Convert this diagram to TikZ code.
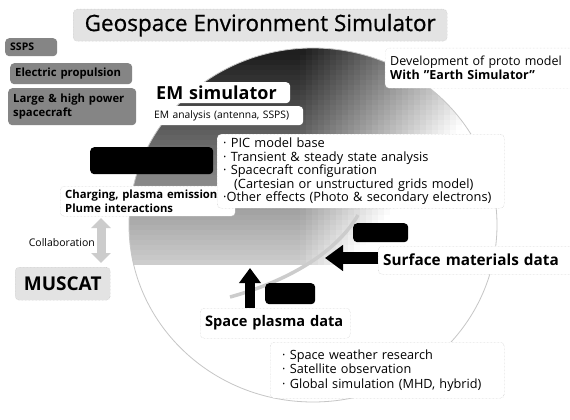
\documentclass[tikz,border=0pt]{standalone}
\usepackage{fontspec}
\setmainfont{Open Sans}
\usetikzlibrary{positioning, arrows.meta, calc}
\definecolor{tag_grey}{gray}{0.52}

\begin{document}
\begin{tikzpicture}[
    x=1pt, y=-1pt,
    every node/.style={inner sep=0pt},
    tag/.style={fill=tag_grey, rounded corners=4pt, anchor=north west,
                inner xsep=5pt, align=left, font=\bfseries\fontsize{11.3}{14}\selectfont},
    note/.style={fill=white, draw=gray!55, densely dotted, rounded corners=4pt,
                 anchor=north west, inner xsep=5pt, align=left},
    plain/.style={fill=white, rounded corners=4pt, anchor=north west,
                  inner xsep=6pt, align=left},
    redact/.style={fill=black, rounded corners=4pt, anchor=north west},
    fatarrow/.style={line width=#1, black},
    collab/.style={line width=9pt, gray!40,
                   {Triangle[width=19pt, length=10pt]}-{Triangle[width=19pt, length=10pt]}}
]
\useasboundingbox[fill=white] (0,0) rectangle (570,420);

% Dome behind everything, darkest top left
\begin{scope}
  \clip (313,225) ellipse [x radius=184pt, y radius=177pt];
  \foreach \i in {0,...,62} {
    \foreach \j in {0,...,43} {
      \pgfmathsetmacro{\cx}{126+6*\i}
      \pgfmathsetmacro{\cy}{45+5*\j}
      \pgfmathsetmacro{\dk}{min(88, max(0, 90 - 0.33*(\cy-47) - 0.4*max(0,\cx-297)))}
      \fill[black!\dk] (\cx,\cy) rectangle ++(6.3,5.3);
    }
  }
\end{scope}
\draw[gray!45, line width=0.8pt] (313,225) ellipse [x radius=184pt, y radius=177pt];

% Title
\node[fill=gray!22, draw=gray!50, densely dotted, rounded corners=4pt, anchor=north west,
      minimum width=374pt, minimum height=32pt,
      font=\fontsize{22.5}{26}\selectfont\addfontfeatures{FakeBold=0.8}]
     (title) at (73,9) {Geospace Environment Simulator};

% Applications on the left
\node[tag, text width=42pt, minimum height=18pt, font=\bfseries\fontsize{10.5}{12}\selectfont]
     (ssps) at (5,38) {SSPS};
\node[tag, text width=112pt, minimum height=21pt] (elec) at (10,63) {Electric propulsion};
\node[tag, text width=118pt, minimum height=37pt] (large) at (8,88) {Large \& high power\\spacecraft};

% EM simulator
\node[plain, text width=128pt, minimum height=21pt, font=\bfseries\fontsize{18}{20}\selectfont]
     (emsim) at (150,82) {EM simulator};
\node[plain, text width=145pt, minimum height=19pt, inner xsep=4pt, font=\fontsize{10.3}{12}\selectfont]
     (emana) at (150,106) {EM analysis (antenna, SSPS)};

\node[note, draw=gray!35, text width=190pt, minimum height=40pt,
      font=\fontsize{12.5}{14}\selectfont] (devel) at (385,48)
     {Development of proto model\\\textbf{With \symbol{34}Earth Simulator\symbol{34}}};

% Plasma simulator
\node[redact, minimum width=123pt, minimum height=27pt] (redactA) at (90,147) {};
\node[note, text width=165pt, minimum height=30pt, font=\bfseries\fontsize{11.3}{14}\selectfont]
     (charging) at (60,186) {Charging, plasma emission\\Plume interactions};
\node[note, text width=275pt, minimum height=74pt, inner xsep=6pt,
      font=\fontsize{12.8}{13.5}\selectfont] (pic) at (217,134)
     {· PIC model base\\
      · Transient \& steady state analysis\\
      · Spacecraft configuration\\
      \hspace*{11pt}(Cartesian or unstructured grids model)\\
      ·Other effects (Photo \& secondary electrons)};

% Collaboration
\coordinate (collabtop) at (101,218);
\coordinate (collabbot) at (101,263);
\draw[collab] (collabtop) -- (collabbot);
\node[left=6pt of $(collabtop)!0.55!(collabbot)$, font=\fontsize{10.5}{12}\selectfont]
     (collabtext) {Collaboration};
\node[fill=gray!22, draw=gray!50, densely dotted, rounded corners=4pt, anchor=north west,
      minimum width=95pt, minimum height=33pt, font=\bfseries\fontsize{19}{21}\selectfont]
     (muscat) at (15,267) {MUSCAT};

% Data inputs
\draw[gray!40, line width=3.5pt] (230,297) .. controls (292,280) and (338,250) .. (358,215);
\node[redact, minimum width=55pt, minimum height=19pt] (redactB) at (353,223) {};
\node[redact, minimum width=50pt, minimum height=21pt] (redactC) at (265,283) {};

\node[note, text width=190pt, minimum height=28pt, font=\bfseries\fontsize{15.3}{17}\selectfont]
     (surface) at (378,246) {Surface materials data};
\node[note, text width=140pt, minimum height=30pt, font=\bfseries\fontsize{14.6}{17}\selectfont]
     (plasma) at (200,308) {Space plasma data};
\node[note, text width=210pt, minimum height=56pt, inner xsep=12pt,
      font=\fontsize{12.7}{14.5}\selectfont] (weather) at (270,342)
     {· Space weather research\\
      · Satellite observation\\
      · Global simulation (MHD, hybrid)};

\coordinate (surfacetip) at (325,258);
\coordinate (plasmatip) at (250,268);
\draw[fatarrow=12pt, -{Triangle[width=25pt, length=18pt]}] (surface.west |- surfacetip) -- (surfacetip);
\draw[fatarrow=10pt, -{Triangle[width=21pt, length=15pt]}] ([xshift=50pt]plasma.north west) -- (plasmatip);

\end{tikzpicture}
\end{document}
